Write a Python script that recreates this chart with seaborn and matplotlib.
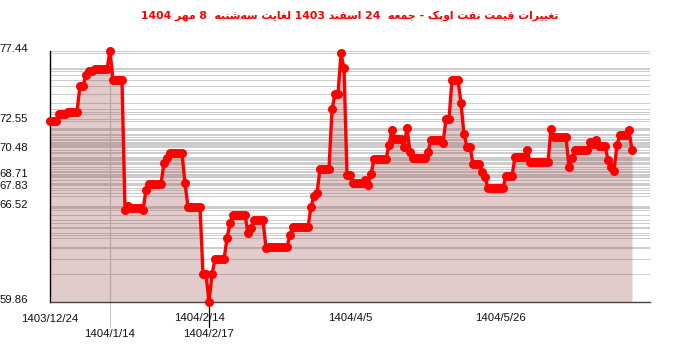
import re
import numpy as np
import pandas as pd
import matplotlib
matplotlib.use("Agg")
import matplotlib.pyplot as plt
import matplotlib.transforms as mtransforms
import seaborn as sns

# ---------------- data ----------------
values = [
    72.55, 72.55, 72.55, 73.02, 73.02, 73.02, 73.18, 73.18, 73.18, 73.18,
    74.97, 74.97, 75.74, 76.04, 76.04, 76.16, 76.16, 76.16, 76.16, 76.16,
    77.44, 75.39, 75.39, 75.39, 75.39, 66.31, 66.61, 66.43, 66.43, 66.43,
    66.43, 66.31, 67.71, 68.12, 68.12, 68.12, 68.12, 68.12, 69.61, 69.92,
    70.27, 70.27, 70.27, 70.27, 70.27, 68.17, 66.52, 66.52, 66.52, 66.52,
    66.52, 61.82, 61.82, 59.86, 61.82, 62.86, 62.86, 62.86, 62.86, 64.33,
    65.38, 65.99, 65.99, 65.99, 65.99, 65.99, 64.68, 65.03, 65.61, 65.61,
    65.61, 65.61, 63.63, 63.74, 63.74, 63.74, 63.74, 63.74, 63.74, 63.74,
    64.56, 65.10, 65.10, 65.10, 65.10, 65.10, 65.10, 66.54, 67.29, 67.47,
    69.15, 69.15, 69.15, 69.15, 73.34, 74.39, 74.39, 77.26, 76.21, 68.75,
    68.75, 68.17, 68.17, 68.17, 68.17, 68.40, 68.06, 68.80, 69.85, 69.85,
    69.85, 69.85, 69.85, 70.85, 71.90, 71.25, 71.25, 71.25, 70.73, 72.02,
    70.38, 69.92, 69.92, 69.92, 69.92, 69.92, 70.38, 71.20, 71.20, 71.20,
    71.20, 70.97, 72.65, 72.65, 75.39, 75.39, 75.39, 73.76, 71.62, 70.73,
    70.73, 69.52, 69.52, 69.52, 68.98, 68.64, 67.83, 67.83, 67.83, 67.83,
    67.83, 67.83, 68.71, 68.71, 68.71, 69.99, 69.99, 69.99, 69.99, 70.50,
    69.64, 69.64, 69.64, 69.64, 69.64, 69.64, 69.64, 71.97, 71.39, 71.39,
    71.39, 71.39, 71.39, 69.33, 69.92, 70.50, 70.50, 70.50, 70.50, 70.50,
    71.04, 70.90, 71.20, 70.80, 70.80, 70.80, 69.80, 69.33, 69.05, 70.85,
    71.55, 71.55, 71.55, 71.90, 70.48,
]
ytick_values = [59.86, 66.52, 67.83, 68.71, 70.48, 72.55, 77.44]
xtick_index = [50, 100, 150]
xtick_labels = ["1404/2/14", "1404/4/5", "1404/5/26"]
first_label = "1403/12/24"
max_label = "1404/1/14"
min_label = "1404/2/17"
title_text = "تغییرات قیمت نفت اوپک - جمعه  24 اسفند 1403 لغایت سه\u200cشنبه  8 مهر 1404"

df = pd.DataFrame({"idx": np.arange(len(values)), "price": values})

# ------------- Arabic/Persian shaping for matplotlib -------------
FORMS = {
    '\u0627': ('\uFE8D', '\uFE8E', None, None),
    '\u0628': ('\uFE8F', '\uFE90', '\uFE91', '\uFE92'),
    '\u062A': ('\uFE95', '\uFE96', '\uFE97', '\uFE98'),
    '\u062C': ('\uFE9D', '\uFE9E', '\uFE9F', '\uFEA0'),
    '\u062F': ('\uFEA9', '\uFEAA', None, None),
    '\u0631': ('\uFEAD', '\uFEAE', None, None),
    '\u0633': ('\uFEB1', '\uFEB2', '\uFEB3', '\uFEB4'),
    '\u0634': ('\uFEB5', '\uFEB6', '\uFEB7', '\uFEB8'),
    '\u0639': ('\uFEC9', '\uFECA', '\uFECB', '\uFECC'),
    '\u063A': ('\uFECD', '\uFECE', '\uFECF', '\uFED0'),
    '\u0641': ('\uFED1', '\uFED2', '\uFED3', '\uFED4'),
    '\u0642': ('\uFED5', '\uFED6', '\uFED7', '\uFED8'),
    '\u0644': ('\uFEDD', '\uFEDE', '\uFEDF', '\uFEE0'),
    '\u0645': ('\uFEE1', '\uFEE2', '\uFEE3', '\uFEE4'),
    '\u0646': ('\uFEE5', '\uFEE6', '\uFEE7', '\uFEE8'),
    '\u0647': ('\uFEE9', '\uFEEA', '\uFEEB', '\uFEEC'),
    '\u0648': ('\uFEED', '\uFEEE', None, None),
    '\u067E': ('\uFB56', '\uFB57', '\uFB58', '\uFB59'),
    '\u06A9': ('\uFB8E', '\uFB8F', '\uFB90', '\uFB91'),
    '\u06CC': ('\uFBFC', '\uFBFD', '\uFBFE', '\uFBFF'),
}


def shape_rtl(text):
    def dual(c):
        return c in FORMS and FORMS[c][2] is not None
    out = []
    for k, c in enumerate(text):
        if c not in FORMS:
            out.append(c)
            continue
        prev = text[k - 1] if k > 0 else ''
        nxt = text[k + 1] if k + 1 < len(text) else ''
        jp = dual(prev)
        jn = dual(c) and nxt in FORMS
        iso, fin, ini, med = FORMS[c]
        if jp and jn:
            out.append(med)
        elif jp:
            out.append(fin)
        elif jn:
            out.append(ini)
        else:
            out.append(iso)
    s = ''.join(out).replace('\u200c', '')
    s = s[::-1]
    return re.sub(r'[0-9]+', lambda m: m.group(0)[::-1], s)


# ---------------- plot ----------------
sns.set_style("white")
plt.rcParams['font.family'] = ['Liberation Sans', 'DejaVu Sans']

W, H = 700, 352
fig = plt.figure(figsize=(W / 100, H / 100), dpi=100)
ax_l, ax_r, ax_t, ax_b = 50, 650, 50.7, 302.3
ax = fig.add_axes([ax_l / W, 1 - ax_b / H, (ax_r - ax_l) / W, (ax_b - ax_t) / H])

ymin, ymax = min(values), max(values)
ax.set_xlim(0, 200)
ax.set_ylim(ymin, ymax)

# horizontal lines at every value
for v in sorted(set(values)):
    ax.axhline(v, color='#cccccc', lw=0.7, zorder=1)

imax = int(np.argmax(values))
imin = int(np.argmin(values))
trans = mtransforms.blended_transform_factory(ax.transData, ax.transAxes)
low = (ax_b - 327) / (ax_b - ax_t)
ax.plot([imax, imax], [1.0, low], transform=trans, color='#c8c8c8', lw=0.9,
        clip_on=False, zorder=1)
ax.plot([imin, imin], [0.0, low], transform=trans, color='black', lw=0.9,
        clip_on=False, zorder=1)

ax.fill_between(df["idx"], df["price"], ymin, color=(0.56, 0.2, 0.2),
                alpha=0.25, lw=0, zorder=2)
sns.lineplot(data=df, x="idx", y="price", ax=ax, color='#ff0000', lw=2.4,
             marker='o', markersize=6.5, markeredgewidth=0, zorder=3,
             clip_on=False)

for s in ['top', 'right']:
    ax.spines[s].set_visible(False)
ax.spines['left'].set_color('black')
ax.spines['left'].set_linewidth(1.0)
ax.spines['bottom'].set_color('#4a4040')
ax.spines['bottom'].set_linewidth(1.0)
ax.set_xlabel('')
ax.set_ylabel('')

FS = 8.2
ax.set_yticks(ytick_values)
ax.set_yticklabels([f"{v:.2f}" for v in ytick_values])
ax.tick_params(axis='y', direction='out', length=5, width=0.9, color='black',
               pad=11, labelsize=FS, labelcolor='#111111')
shift = mtransforms.ScaledTranslation(0, 3 / 100, fig.dpi_scale_trans)
for lab in ax.get_yticklabels():
    lab.set_transform(lab.get_transform() + shift)

ax.set_xticks(xtick_index)
ax.set_xticklabels(xtick_labels)
ax.set_xticks([0], minor=True)
ax.set_xticklabels([first_label], minor=True)
ax.tick_params(axis='x', which='major', direction='in', length=5, width=0.9,
               color='black', pad=7.5, labelsize=FS, labelcolor='#111111')
ax.tick_params(axis='x', which='minor', direction='out', length=5, width=0.9,
               color='black', pad=3.5, labelsize=FS, labelcolor='#111111')

lab_y = (ax_b - 334) / (ax_b - ax_t)
ax.text(imax, lab_y, max_label, transform=trans, ha='center', va='center',
        fontsize=FS, color='#111111')
ax.text(imin, lab_y, min_label, transform=trans, ha='center', va='center',
        fontsize=FS, color='#111111')

fig.text(0.5, 1 - 16 / H, shape_rtl(title_text), ha='center', va='center',
         color='#ff0000', fontsize=7.8, fontweight='bold',
         family=['DejaVu Sans'])

fig.savefig("out.png", dpi=100)
